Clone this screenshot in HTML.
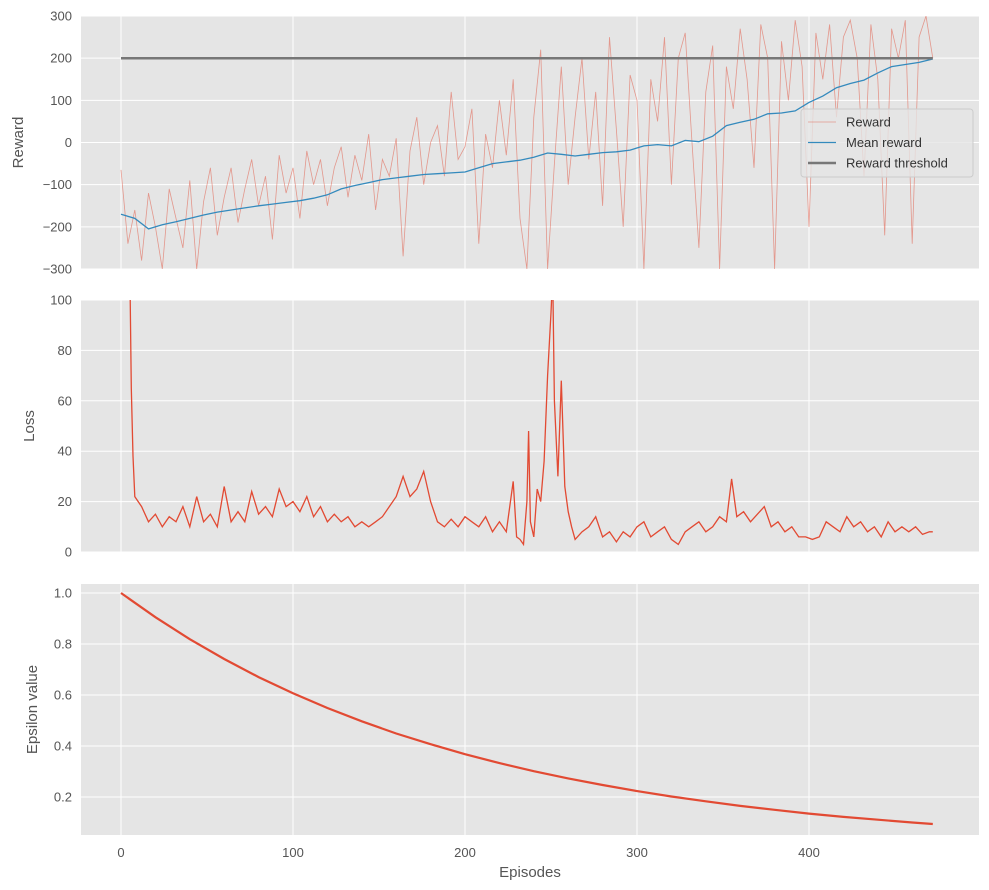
<!DOCTYPE html>
<html><head><meta charset="utf-8"><style>
body{margin:0;background:#fff;font-family:"Liberation Sans","DejaVu Sans",sans-serif;}
svg{display:block}
</style></head><body>
<svg id="c" width="989" height="890" xmlns="http://www.w3.org/2000/svg"></svg>
<script>
const rewardStep = 4;
const rewardValues = [-65,-240,-160,-280,-120,-200,-300,-110,-180,-250,-90,-300,-140,-60,-220,-130,
-60,-190,-110,-40,-150,-80,-230,-30,-120,-60,-180,-20,-100,-40,-150,
-60,-10,-130,-30,-90,20,-160,-40,-80,10,-270,-20,60,-100,0,
40,-80,120,-40,-10,80,-240,20,-60,100,-30,150,-180,-300,60,
220,-300,-50,180,-100,60,200,-40,120,-150,250,30,-200,160,100,
-300,150,50,250,-100,200,260,0,-250,120,230,-300,180,80,270,
150,-60,280,200,-300,240,100,290,180,-200,260,150,280,60,250,
290,200,-80,280,150,-220,270,200,290,-240,250,300,200];
const meanStep = 8;
const meanValues = [-170,-180,-205,-195,-188,-180,-172,-165,-160,-155,-150,-146,-142,-138,-132,-124,-110,-102,-95,-88,-84,-80,-76,-74,-72,-70,-60,-50,-46,-42,-35,-25,-28,-32,-28,-24,-22,-18,-8,-5,-8,5,2,15,40,48,55,68,70,75,95,110,130,140,148,165,180,185,190,198];
const rewardThreshold = 200;
const lossEpisodes = [5,6,7,8,12,16,20,24,28,32,36,40,44,48,52,56,60,64,68,72,76,80,84,88,92,96,100,104,108,112,116,120,124,128,132,136,140,144,148,152,156,160,164,168,172,176,180,184,188,192,196,200,204,208,212,216,220,224,228,230,232,234,236,237,238,240,242,244,246,248,250,251,252,254,256,258,260,262,264,268,272,276,280,284,288,292,296,300,304,308,312,316,320,324,328,332,336,340,344,348,352,355,358,362,366,370,374,378,382,386,390,394,398,402,406,410,414,418,422,426,430,434,438,442,446,450,454,458,462,466,470,472];
const lossValues = [120,65,38,22,18,12,15,10,14,12,18,10,22,12,15,10,26,12,16,12,24,15,18,14,25,18,20,16,22,14,18,12,15,12,14,10,12,10,12,14,18,22,30,22,25,32,20,12,10,13,10,14,12,10,14,8,12,8,28,6,5,3,20,48,12,6,25,20,36,70,95,110,60,30,68,26,16,10,5,8,10,14,6,8,4,8,6,10,12,6,8,10,5,3,8,10,12,8,10,14,12,29,14,16,12,15,18,10,12,8,10,6,6,5,6,12,10,8,14,10,12,8,10,6,12,8,10,8,10,7,8,8];
const epsStep = 20;
const epsValues = [1.0,0.905,0.819,0.741,0.670,0.607,0.549,0.497,0.449,0.407,0.368,0.333,0.301,0.273,0.247,0.223,0.202,0.183,0.165,0.150,0.135,0.122,0.111,0.100,0.094];
const epsLastEpisode = 472;
const xTicks = [0,100,200,300,400];
const rewardTicks = [-300,-200,-100,0,100,200,300];
const lossTicks = [0,20,40,60,80,100];
const epsTicks = [0.2,0.4,0.6,0.8,1.0];

const NS="http://www.w3.org/2000/svg";
const svg=document.getElementById('c');
function mk(t,a,p){const e=document.createElementNS(NS,t);for(const k in a)e.setAttribute(k,a[k]);(p||svg).appendChild(e);return e;}
const L=81,R=979;
const x=v=>121+(v)*(809-121)/400;
function panel(name,top,bot,yMin,yMax,ticks,label,fmt){
  const g=mk('g',{});
  
  
  mk('rect',{x:L,y:top,width:R-L,height:bot-top,fill:'#e5e5e5'},g);
  const y=v=>bot-(v-yMin)*(bot-top)/(yMax-yMin);
  ticks.forEach(t=>{
    mk('line',{x1:L,x2:R,y1:y(t),y2:y(t),stroke:'#fff','stroke-width':1},g);
    const tx=mk('text',{x:L-9,y:y(t)+4.5,'text-anchor':'end','font-size':13,fill:'#555'},g);
    tx.textContent=fmt(t);
    
    
  });
  xTicks.forEach(t=>mk('line',{x1:x(t),x2:x(t),y1:top,y2:bot,stroke:'#fff','stroke-width':1},g));
  const yl=mk('text',{x:0,y:0,'text-anchor':'middle','font-size':15,fill:'#555',transform:`translate(${name==='epsilon'?37:name==='loss'?34:23},${(top+bot)/2}) rotate(-90)`},g);
  yl.textContent=label;
  
  
  mk('clipPath',{id:'cp-'+name},g).appendChild(Object.assign(document.createElementNS(NS,'rect'),{}));
  const cr=g.querySelector('#cp-'+name+' rect');
  cr.setAttribute('x',L);cr.setAttribute('y',top);cr.setAttribute('width',R-L);cr.setAttribute('height',bot-top);
  const cg=mk('g',{'clip-path':`url(#cp-${name})`},g);
  return {y,cg};
}
function line(g,xs,ys,yf,attrs,name){
  const d=xs.map((v,i)=>(i?'L':'M')+x(v).toFixed(1)+','+yf(ys[i]).toFixed(1)).join('');
  const p=mk('path',Object.assign({d,fill:'none'},attrs),g);
  
  
}
// reward
const p1=panel('reward',16,269,-300,300,rewardTicks,'Reward',t=>t<0?'\u2212'+(-t):''+t);
line(p1.cg,rewardValues.map((_,i)=>i*rewardStep),rewardValues,p1.y,{stroke:'#E24A33','stroke-width':0.8,'stroke-opacity':0.5},'reward-line');
line(p1.cg,meanValues.map((_,i)=>i*meanStep),meanValues,p1.y,{stroke:'#348ABD','stroke-width':1.3},'mean-reward-line');
line(p1.cg,[0,epsLastEpisode],[rewardThreshold,rewardThreshold],p1.y,{stroke:'#777','stroke-width':2.5},'reward-threshold-line');
// loss
const p2=panel('loss',300,552,0,100,lossTicks,'Loss',t=>''+t);
line(p2.cg,lossEpisodes,lossValues,p2.y,{stroke:'#E24A33','stroke-width':1.3},'loss-line');
// epsilon
const p3=panel('epsilon',584,835,(797-835)/255*1+0.2-0.0,0.2+(797-584)/255,epsTicks,'Epsilon value',t=>t.toFixed(1));
const ex=epsValues.map((_,i)=>Math.min(i*epsStep,epsLastEpisode));
line(p3.cg,ex,epsValues,p3.y,{stroke:'#E24A33','stroke-width':2.2},'epsilon-line');
xTicks.forEach(t=>{
  const tx=mk('text',{x:x(t),y:857,'text-anchor':'middle','font-size':13,fill:'#555'});
  tx.textContent=t;
  
  
});
const xl=mk('text',{x:530,y:877,'text-anchor':'middle','font-size':15,fill:'#555'});
xl.textContent='Episodes';


// legend
const lg=mk('g',{});


mk('rect',{x:801,y:109,width:172,height:68,rx:3,fill:'#e5e5e5','fill-opacity':0.8,stroke:'#ccc'},lg);
const items=[['Reward','#E24A33',0.8,0.5],['Mean reward','#348ABD',1.3,1],['Reward threshold','#777',2.5,1]];
items.forEach((it,i)=>{
  const yy=122+i*20.5;
  const e=mk('g',{},lg);
  
  
  mk('line',{x1:808,x2:836,y1:yy,y2:yy,stroke:it[1],'stroke-width':it[2],'stroke-opacity':it[3]},e);
  const t=mk('text',{x:846,y:yy+4.5,'font-size':13,fill:'#333'},e);
  t.textContent=it[0];
});
</script>
</body></html>
